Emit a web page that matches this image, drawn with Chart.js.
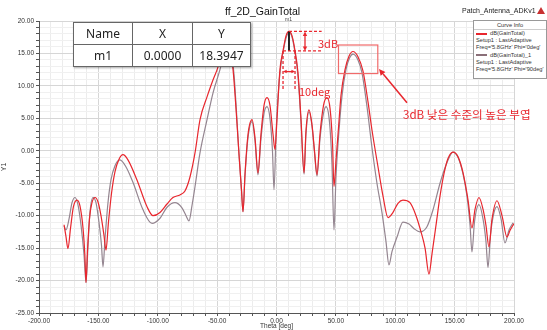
<!DOCTYPE html>
<html>
<head>
<meta charset="utf-8">
<script src="https://cdn.jsdelivr.net/npm/chart.js@4.4.1/dist/chart.umd.min.js"></script>
<style>
  html, body { margin: 0; padding: 0; background: #fff; }
  #wrap { position: relative; width: 547px; height: 330px; overflow: hidden; font-family: "Liberation Sans", Arial, sans-serif; }
  canvas { position: absolute; left: 0; top: 0; }
  .abs { position: absolute; white-space: nowrap; }
  #title { left: 225px; top: 5px; font-size: 10.5px; color: #111; }
  #project { left: 462px; top: 7px; font-size: 7px; color: #222; }
  #logo { left: 537px; top: 7px; width: 0; height: 0; border-left: 4px solid transparent; border-right: 4px solid transparent; border-bottom: 7px solid #c83030; }
  #markers { left: 73px; top: 22px; border-collapse: collapse; background: #fff; font-family: "Noto Sans", sans-serif; font-size: 12px; color: #222; box-shadow: 1px 1px 2px rgba(0,0,0,0.35); }
  #markers td { border: 1px solid #666; text-align: center; padding: 0; height: 21px; line-height: 21px; }
  #legend { left: 473px; top: 20px; width: 72px; height: 57px; border: 1px solid #999; background: #fff; font-size: 5.7px; color: #333; line-height: 7.2px; }
  #legend .hd { text-align: center; border-bottom: 1px solid #ccc; line-height: 8px; }
  #legend .row { padding-left: 2px; }
  #legend .sw { display: inline-block; width: 11px; height: 2px; vertical-align: middle; margin-right: 3px; }
  .red { color: #e8262d; font-family: "Noto Sans CJK KR", "Noto Sans", sans-serif; }
</style>
</head>
<body>
<div id="wrap">
  <canvas id="chart" width="547" height="330"></canvas>
  <div class="abs" id="title">ff_2D_GainTotal</div>
  <div class="abs" id="project">Patch_Antenna_ADKv1</div>
  <div class="abs" id="logo"></div>
  <table class="abs" id="markers">
    <tr><td style="width:58px">Name</td><td style="width:59px">X</td><td style="width:57px">Y</td></tr>
    <tr><td>m1</td><td>0.0000</td><td>18.3947</td></tr>
  </table>
  <div class="abs" style="left:285px;top:16px;font-size:5px;color:#444;">m1</div>
  <div class="abs" id="legend">
    <div class="hd">Curve Info</div>
    <div class="row"><span class="sw" style="background:#e8262d"></span>dB(GainTotal)</div>
    <div class="row">Setup1 : LastAdaptive</div>
    <div class="row">Freq='5.8GHz' Phi='0deg'</div>
    <div class="row"><span class="sw" style="background:#8a6f78"></span>dB(GainTotal)_1</div>
    <div class="row">Setup1 : LastAdaptive</div>
    <div class="row">Freq='5.8GHz' Phi='90deg'</div>
  </div>
  <div class="abs red" style="left:318px;top:35px;font-size:11px;">3dB</div>
  <div class="abs red" style="left:299px;top:83px;font-size:11px;">10deg</div>
  <div class="abs red" style="left:403px;top:106px;font-size:11.6px;">3dB 낮은 수준의 높은 부엽</div>
</div>
<script>
// -------------------- DATA --------------------
// Phi = 0deg (red)
const thetaPhi0 = [-178.9, -177.3, -175.6, -173.5, -171.0, -168.0, -165.5, -162.9, -161.4, -160.4,
  -159.2, -157.5, -155.4, -152.8, -150.3, -147.8, -145.3, -143.6, -141.5, -138.9,
  -136.0, -132.6, -129.3, -125.1, -117.5, -109.1, -104.0, -98.1, -92.2, -87.2,
  -81.3, -77.1, -72.8, -68.6, -64.4, -58.5, -53.5, -49.3, -45.9, -42.5,
  -39.2, -36.6, -34.1, -31.6, -29.5, -28.2, -26.5, -24.0, -20.6, -18.1,
  -15.6, -13.1, -10.5, -8.0, -5.5, -2.9, -1.3, 0.4, 2.9, 5.5,
  8.0, 10.5, 13.1, 15.6, 18.1, 20.6, 23.2, 24.8, 27.4, 29.9,
  32.0, 34.1, 36.6, 39.6, 42.5, 45.1, 47.2, 48.4, 50.1, 52.2,
  54.3, 57.7, 61.1, 64.4, 68.6, 72.8, 77.1, 80.4, 85.5, 89.7,
  93.9, 98.1, 102.3, 106.5, 112.4, 117.5, 121.7, 125.1, 128.4, 131.0,
  134.3, 137.7, 141.1, 144.4, 148.6, 152.8, 157.1, 161.3, 164.6, 167.2,
  170.5, 173.9, 176.4, 178.9, 181.5, 185.7, 189.9, 194.1, 196.6, 200.0];
const gainPhi0 = [-11.4, -13.2, -15.1, -12.0, -8.6, -7.6, -8.5, -12.0, -16.0, -20.3,
  -15.5, -10.5, -8.0, -7.2, -7.9, -10.0, -13.0, -15.3, -11.0, -6.5,
  -3.2, -1.3, -0.6, -1.4, -4.5, -8.6, -10.0, -9.5, -8.2, -7.2,
  -6.8, -6.2, -4.0, -0.3, 4.8, 8.3, 10.9, 12.9, 15.3, 16.4,
  15.5, 12.5, 6.5, -0.5, -6.0, -9.4, -3.5, 2.5, 4.8, 2.0,
  -3.4, 2.5, 7.0, 8.2, 7.0, 2.5, 0.2, 4.8, 12.5, 15.4,
  17.7, 18.39, 17.7, 15.4, 12.0, 5.0, -3.4, 3.0, 6.3, 4.0,
  0.0, -3.7, 2.5, 7.0, 8.2, 6.5, 1.0, -5.5, -1.5, 3.5,
  8.5, 12.5, 14.6, 15.3, 14.5, 12.3, 7.5, 3.2, -2.5, -7.0,
  -10.3, -9.5, -8.1, -7.6, -8.0, -10.0, -12.5, -15.0, -19.0, -15.8,
  -11.5, -7.0, -3.5, -1.2, -0.2, -0.9, -3.4, -7.6, -11.9, -9.0,
  -7.2, -9.0, -11.5, -14.8, -10.5, -7.7, -10.0, -13.3, -12.3, -11.2];

// Phi = 90deg (grey)
const thetaPhi90 = [-178.9, -177.3, -174.7, -172.2, -169.7, -167.2, -164.6, -162.1, -160.4, -158.7,
  -157.1, -154.5, -152.0, -149.5, -147.4, -146.1, -144.4, -141.9, -139.4, -136.0,
  -131.8, -126.7, -120.8, -112.4, -104.8, -98.1, -92.2, -85.5, -79.6, -76.2,
  -73.7, -71.2, -68.6, -64.4, -58.5, -53.5, -47.6, -44.2, -41.3, -38.3,
  -35.8, -33.7, -31.6, -29.5, -28.2, -26.5, -24.0, -20.6, -18.1, -15.6,
  -13.1, -10.5, -8.0, -5.5, -3.4, -2.1, -0.4, 1.3, 3.4, 5.9,
  8.4, 10.5, 13.1, 15.6, 18.1, 20.6, 23.2, 24.8, 27.4, 29.9,
  32.0, 34.1, 36.6, 39.6, 41.7, 44.6, 46.7, 48.4, 50.1, 52.6,
  55.2, 58.5, 61.5, 64.4, 68.6, 72.0, 76.2, 80.4, 84.6, 88.8,
  92.2, 94.7, 97.3, 101.5, 106.5, 111.6, 115.8, 120.8, 126.7, 131.8,
  137.7, 143.6, 148.6, 152.8, 157.1, 160.4, 163.0, 164.6, 166.7, 170.5,
  173.9, 176.4, 178.1, 180.2, 183.2, 185.7, 189.1, 192.4, 195.8, 199.2];
const gainPhi90 = [-11.6, -12.2, -10.5, -8.0, -7.2, -8.3, -11.5, -16.0, -20.3, -14.5,
  -9.5, -7.2, -8.0, -11.0, -14.5, -17.9, -13.5, -8.0, -4.5, -2.3,
  -1.4, -2.5, -4.9, -9.1, -11.2, -10.4, -8.7, -8.0, -8.8, -10.0,
  -10.8, -8.5, -5.5, -0.3, 4.8, 8.9, 12.5, 15.0, 16.2, 15.2,
  11.8, 6.0, -0.5, -6.0, -9.4, -3.8, 2.0, 4.5, 1.5, -3.7,
  1.8, 5.8, 6.8, 5.0, 0.0, -6.0, 2.5, 8.5, 12.8, 15.6,
  17.6, 18.2, 17.5, 15.1, 11.5, 4.5, -3.6, 2.5, 6.0, 3.8,
  -0.3, -3.9, 1.8, 5.8, 6.8, 4.5, -2.0, -12.2, -4.0, 3.0,
  8.5, 12.5, 14.3, 14.9, 14.0, 12.0, 6.8, 0.5, -5.0, -9.5,
  -14.0, -17.6, -15.5, -13.3, -11.0, -11.3, -12.0, -12.5, -11.7, -9.1,
  -5.0, -1.8, -0.2, -1.0, -3.6, -7.0, -11.5, -15.6, -11.0, -8.3,
  -10.5, -14.0, -18.0, -13.0, -9.5, -8.6, -10.5, -14.2, -12.2, -11.1];

// axis ranges / tick steps
const xRange = [-200, 200];
const yRange = [-25, 20];
const xMajor = 50, xMinor = 10;
const yMajor = 5, yMinor = 1;

// annotation anchors (data units)
const peakTheta = 10.5, peakGain = 18.39;
const halfLeft = 5.5, halfRight = 15.6;
const boxTheta = [52.2, 85.3], boxGain = [11.9, 16.3];
const arrowFrom = [109.9, 7.4], arrowTo = [86.3, 12.6];

const RED = "#e8262d";
const GREY = "#948590";

const toPoints = (xs, ys) => xs.map((t, i) => ({ x: t, y: ys[i] }));

// -------------------- ANNOTATIONS --------------------
function arrowHead(ctx, x1, y1, x2, y2, size) {
  const a = Math.atan2(y2 - y1, x2 - x1);
  ctx.beginPath();
  ctx.moveTo(x2, y2);
  ctx.lineTo(x2 - size * Math.cos(a - 0.45), y2 - size * Math.sin(a - 0.45));
  ctx.lineTo(x2 - size * Math.cos(a + 0.45), y2 - size * Math.sin(a + 0.45));
  ctx.closePath();
  ctx.fill();
}

const annotations = {
  id: "annotations",
  afterDatasetsDraw(chart) {
    const { ctx, scales: { x, y } } = chart;
    const px = v => x.getPixelForValue(v);
    const py = v => y.getPixelForValue(v);
    const lowGain = peakGain - 3;
    ctx.save();

    // marker stem
    ctx.strokeStyle = "#222";
    ctx.lineWidth = 2;
    ctx.beginPath();
    ctx.moveTo(px(peakTheta), py(peakGain));
    ctx.lineTo(px(peakTheta), py(lowGain));
    ctx.stroke();

    ctx.strokeStyle = RED;
    ctx.fillStyle = RED;
    ctx.lineWidth = 1.3;
    ctx.setLineDash([3, 2]);
    ctx.beginPath();
    ctx.moveTo(px(peakTheta), py(peakGain));
    ctx.lineTo(px(38), py(peakGain));
    ctx.moveTo(px(halfLeft), py(lowGain));
    ctx.lineTo(px(38), py(lowGain));
    ctx.moveTo(px(halfLeft), py(lowGain));
    ctx.lineTo(px(halfLeft), py(9.2));
    ctx.moveTo(px(halfRight), py(lowGain));
    ctx.lineTo(px(halfRight), py(9.2));
    ctx.stroke();
    ctx.setLineDash([]);

    // 3 dB arrow
    const ax = px(24);
    ctx.beginPath();
    ctx.moveTo(ax, py(peakGain) + 3);
    ctx.lineTo(ax, py(lowGain) - 3);
    ctx.stroke();
    arrowHead(ctx, ax, py(lowGain), ax, py(peakGain), 5);
    arrowHead(ctx, ax, py(peakGain), ax, py(lowGain), 5);

    // 10 deg arrow
    const ay = py(12.2);
    ctx.beginPath();
    ctx.moveTo(px(halfLeft) + 3, ay);
    ctx.lineTo(px(halfRight) - 3, ay);
    ctx.stroke();
    arrowHead(ctx, px(halfRight), ay, px(halfLeft), ay, 4);
    arrowHead(ctx, px(halfLeft), ay, px(halfRight), ay, 4);

    // side lobe box + pointer
    ctx.strokeStyle = "#f06a6a";
    ctx.lineWidth = 1.2;
    ctx.strokeRect(px(boxTheta[0]), py(boxGain[1]),
      px(boxTheta[1]) - px(boxTheta[0]), py(boxGain[0]) - py(boxGain[1]));
    ctx.strokeStyle = RED;
    ctx.lineWidth = 1.5;
    const fx = px(arrowFrom[0]), fy = py(arrowFrom[1]);
    const tx = px(arrowTo[0]), ty = py(arrowTo[1]);
    ctx.beginPath();
    ctx.moveTo(fx, fy);
    ctx.lineTo(tx + (fx - tx) * 0.15, ty + (fy - ty) * 0.15);
    ctx.stroke();
    arrowHead(ctx, fx, fy, tx, ty, 7);

    ctx.restore();
  }
};

// -------------------- CHART SETUP --------------------
const ctx = document.getElementById("chart").getContext("2d");

const chart = new Chart(ctx, {
  type: "line",
  data: {
    datasets: [
      {
        label: "dB(GainTotal)",
        data: toPoints(thetaPhi0, gainPhi0),
        borderColor: RED,
        borderWidth: 1.2,
        pointRadius: 0,
        cubicInterpolationMode: "monotone",
        fill: false,
        order: 0
      },
      {
        label: "dB(GainTotal)_1",
        data: toPoints(thetaPhi90, gainPhi90),
        borderColor: GREY,
        borderWidth: 1.2,
        pointRadius: 0,
        cubicInterpolationMode: "monotone",
        fill: false,
        order: 1
      }
    ]
  },
  options: {
    responsive: false,
    animation: false,
    devicePixelRatio: 1,
    layout: { padding: { left: 0, top: 21, right: 33, bottom: 0 } },
    plugins: {
      legend: { display: false },
      tooltip: { enabled: false }
    },
    scales: {
      x: {
        type: "linear",
        min: xRange[0],
        max: xRange[1],
        afterFit: s => { s.height = 17; },
        border: { color: "#555", width: 1 },
        grid: {
          color: c => (c.tick.value % xMajor === 0 ? "#d6d6d6" : "#ececec"),
          tickColor: "#555",
          tickLength: 3
        },
        ticks: {
          stepSize: xMinor,
          autoSkip: false,
          maxRotation: 0,
          padding: 1,
          color: "#333",
          font: { size: 6.5, family: "Liberation Sans" },
          callback: v => (v % xMajor === 0 ? v.toFixed(2) : "")
        },
        title: {
          display: true,
          text: "Theta [deg]",
          color: "#333",
          padding: 0,
          font: { size: 6.5, family: "Liberation Sans" }
        }
      },
      y: {
        min: yRange[0],
        max: yRange[1],
        afterFit: s => { s.width = 39; },
        border: { color: "#555", width: 1 },
        grid: {
          color: c => (c.tick.value % yMajor === 0 ? "#d6d6d6" : "#f0f0f0"),
          tickColor: "#555",
          tickLength: 3
        },
        ticks: {
          stepSize: yMinor,
          autoSkip: false,
          padding: 2,
          color: "#333",
          font: { size: 6.5, family: "Liberation Sans" },
          callback: v => (v % yMajor === 0 ? v.toFixed(2) : "")
        },
        title: {
          display: true,
          text: "Y1",
          color: "#333",
          padding: 0,
          font: { size: 7, family: "Liberation Sans" }
        }
      }
    }
  },
  plugins: [annotations]
});
</script>
</body>
</html>
